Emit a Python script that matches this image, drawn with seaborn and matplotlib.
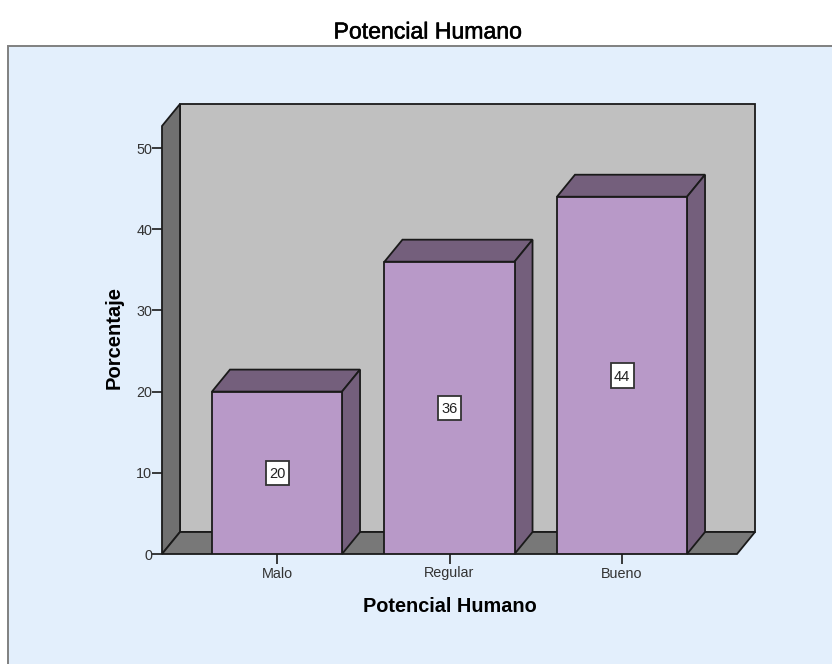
import matplotlib
matplotlib.use("Agg")
import matplotlib.pyplot as plt
from matplotlib.patches import Polygon, Rectangle
import matplotlib.patheffects as pe
import pandas as pd
import seaborn as sns

categories = ["Malo", "Regular", "Bueno"]
percentages = [20, 36, 44]
y_ticks = [0, 10, 20, 30, 40, 50]
title_text = "Potencial Humano"
x_label = "Potencial Humano"
y_label = "Porcentaje"

W, H = 832, 664
FRONT, SIDE, TOP = "#B899C8", "#745F7C", "#745F7C"
WALL, DARK, FLOOR, PANEL, EDGE = "#C0C0C0", "#707070", "#787878", "#E3EFFC", "#1A1A1A"

sns.set_theme(style="white")
plt.rcParams["font.family"] = ["Liberation Sans", "DejaVu Sans"]

fig = plt.figure(figsize=(W / 100, H / 100), dpi=100, facecolor="white")
fig.patches.append(Rectangle((8 / W, -0.05), 1, 1.05 - 46 / H, transform=fig.transFigure,
                             facecolor=PANEL, edgecolor="#808080", linewidth=1.4, zorder=-5))

left, right, y0_px, y50_px = 162, 737, 554, 148
top_px = 126
ax = fig.add_axes([left / W, 1 - y0_px / H, (right - left) / W, (y0_px - top_px) / H])
ax.patch.set_alpha(0)

df = pd.DataFrame({"cat": categories, "pct": percentages})
sns.barplot(data=df, x="cat", y="pct", order=categories, color=FRONT, saturation=1,
            width=0.754, edgecolor=EDGE, linewidth=1.3, ax=ax, zorder=5)

step_px = 172.5
y_scale = (y0_px - y50_px) / 50
ax.set_xlim(-(277 - left) / step_px, (right - 277) / step_px)
ax.set_ylim(0, (y0_px - top_px) / y_scale)
x0, x1 = ax.get_xlim()
y0, y1 = ax.get_ylim()
dx = 18 / step_px
dy = 22 / y_scale
box_w = 23 / step_px
box_h = 24.5 / y_scale


def poly(points, color, z):
    ax.add_patch(Polygon(points, closed=True, facecolor=color, edgecolor=EDGE,
                         linewidth=1.3, zorder=z, clip_on=False, joinstyle="miter"))


# Back wall, left wall, floor
poly([(x0 + dx, y0 + dy), (x1 + dx, y0 + dy), (x1 + dx, y1 + dy), (x0 + dx, y1 + dy)], WALL, 1)
poly([(x0, y0), (x0 + dx, y0 + dy), (x0 + dx, y1 + dy), (x0, y1)], DARK, 2)
poly([(x0, y0), (x1, y0), (x1 + dx, y0 + dy), (x0 + dx, y0 + dy)], FLOOR, 2)

# Bar depth faces and value labels
for bar, value in zip(ax.patches[:len(percentages)], percentages):
    a = bar.get_x()
    b = a + bar.get_width()
    c = (a + b) / 2
    poly([(a, value), (b, value), (b + dx, value + dy), (a + dx, value + dy)], TOP, 4)
    poly([(b, 0), (b + dx, dy), (b + dx, value + dy), (b, value)], SIDE, 4)
    ax.add_patch(Rectangle((c - box_w / 2, value / 2 - box_h / 2), box_w, box_h, facecolor="white",
                           edgecolor="#333333", linewidth=1.3, zorder=7))
    ax.text(c, value / 2, str(value), ha="center", va="center_baseline", fontsize=10.5,
            color="#222222", zorder=8)

sns.despine(ax=ax, left=True, bottom=True, right=True, top=True)
ax.set_yticks(y_ticks)
ax.tick_params(axis="both", which="both", length=7, width=1.2, color=EDGE,
               labelcolor="#333333", labelsize=10.4, left=True, bottom=True)
ax.tick_params(axis="y", pad=0)
ax.tick_params(axis="x", pad=2)
ax.set_xlabel(x_label, fontsize=14.3, fontweight="bold", color="black", labelpad=12)
ax.set_ylabel(y_label, fontsize=14.5, fontweight="bold", color="black", labelpad=9)
ax.yaxis.label.set_y(0.505)
fig.text(427.5 / W, 1 - 32 / H, title_text, ha="center", va="center", fontsize=16.6, color="black",
         path_effects=[pe.withStroke(linewidth=0.4, foreground="black")])

fig.savefig("out.png", dpi=100, facecolor="white")
